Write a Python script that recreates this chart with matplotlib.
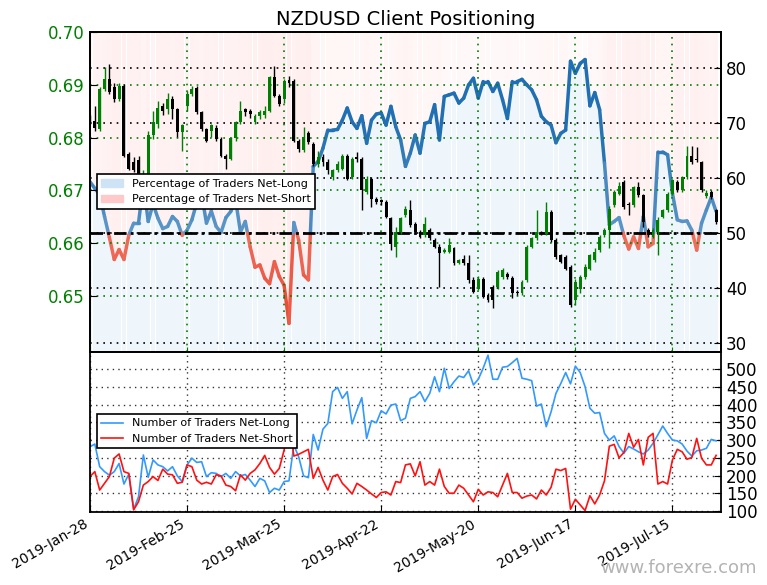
import numpy as np
import matplotlib
matplotlib.use('Agg')
import matplotlib.pyplot as plt
from matplotlib.collections import LineCollection
from matplotlib.patches import Patch
from matplotlib.colors import to_rgb

# tick labels every 20 trading days
tick_labels = ['2019-Jan-28', '2019-Feb-25', '2019-Mar-25', '2019-Apr-22',
               '2019-May-20', '2019-Jun-17', '2019-Jul-15']

# NZDUSD daily candles
opens = [0.6835, 0.6832, 0.6816, 0.6892, 0.6911, 0.6895, 0.6873, 0.6898, 0.6769, 0.6753,
         0.6757, 0.6722, 0.6730, 0.6804, 0.6826, 0.6860, 0.6854, 0.6873, 0.6854, 0.6810,
         0.6860, 0.6882, 0.6894, 0.6848, 0.6816, 0.6813, 0.6819, 0.6797, 0.6766, 0.6760,
         0.6799, 0.6829, 0.6854, 0.6851, 0.6829, 0.6840, 0.6842, 0.6851, 0.6914, 0.6879,
         0.6873, 0.6909, 0.6908, 0.6794, 0.6776, 0.6808, 0.6788, 0.6750, 0.6763, 0.6753,
         0.6725, 0.6738, 0.6741, 0.6766, 0.6725, 0.6763, 0.6760, 0.6697, 0.6722, 0.6684,
         0.6681, 0.6678, 0.6647, 0.6593, 0.6621, 0.6653, 0.6662, 0.6637, 0.6621, 0.6615,
         0.6625, 0.6606, 0.6593, 0.6584, 0.6584, 0.6590, 0.6562, 0.6571, 0.6562, 0.6530,
         0.6514, 0.6533, 0.6502, 0.6518, 0.6518, 0.6536, 0.6542, 0.6535, 0.6508, 0.6505,
         0.6530, 0.6593, 0.6609, 0.6621, 0.6618, 0.6659, 0.6606, 0.6577, 0.6574, 0.6555,
         0.6492, 0.6514, 0.6536, 0.6552, 0.6568, 0.6587, 0.6615, 0.6625, 0.6672, 0.6694,
         0.6716, 0.6675, 0.6672, 0.6706, 0.6691, 0.6625, 0.6612, 0.6621, 0.6650, 0.6662,
         0.6694, 0.6716, 0.6700, 0.6725, 0.6766, 0.6760, 0.6753, 0.6690, 0.6697, 0.6662]
highs = [0.6842, 0.6860, 0.6895, 0.6933, 0.6939, 0.6904, 0.6904, 0.6901, 0.6772, 0.6763,
         0.6766, 0.6738, 0.6813, 0.6851, 0.6870, 0.6866, 0.6885, 0.6879, 0.6857, 0.6826,
         0.6889, 0.6898, 0.6898, 0.6851, 0.6819, 0.6826, 0.6823, 0.6801, 0.6769, 0.6801,
         0.6832, 0.6870, 0.6857, 0.6855, 0.6845, 0.6852, 0.6860, 0.6917, 0.6935, 0.6882,
         0.6911, 0.6917, 0.6911, 0.6797, 0.6820, 0.6813, 0.6791, 0.6775, 0.6769, 0.6760,
         0.6741, 0.6756, 0.6769, 0.6769, 0.6764, 0.6772, 0.6763, 0.6728, 0.6725, 0.6688,
         0.6684, 0.6681, 0.6650, 0.6631, 0.6650, 0.6670, 0.6681, 0.6640, 0.6625, 0.6650,
         0.6628, 0.6609, 0.6599, 0.6590, 0.6609, 0.6593, 0.6571, 0.6577, 0.6577, 0.6536,
         0.6538, 0.6536, 0.6505, 0.6521, 0.6549, 0.6554, 0.6545, 0.6538, 0.6511, 0.6530,
         0.6596, 0.6612, 0.6662, 0.6624, 0.6678, 0.6662, 0.6609, 0.6580, 0.6577, 0.6558,
         0.6533, 0.6540, 0.6560, 0.6580, 0.6590, 0.6615, 0.6628, 0.6670, 0.6700, 0.6716,
         0.6719, 0.6678, 0.6709, 0.6716, 0.6694, 0.6628, 0.6628, 0.6650, 0.6665, 0.6697,
         0.6722, 0.6719, 0.6728, 0.6785, 0.6785, 0.6782, 0.6756, 0.6700, 0.6701, 0.6665]
lows = [0.6826, 0.6813, 0.6813, 0.6889, 0.6882, 0.6867, 0.6870, 0.6763, 0.6738, 0.6735,
        0.6725, 0.6712, 0.6725, 0.6798, 0.6819, 0.6842, 0.6845, 0.6835, 0.6801, 0.6775,
        0.6851, 0.6879, 0.6845, 0.6813, 0.6791, 0.6801, 0.6794, 0.6763, 0.6741, 0.6757,
        0.6794, 0.6826, 0.6840, 0.6838, 0.6826, 0.6836, 0.6838, 0.6848, 0.6876, 0.6860,
        0.6866, 0.6895, 0.6791, 0.6772, 0.6772, 0.6788, 0.6747, 0.6745, 0.6747, 0.6732,
        0.6720, 0.6734, 0.6738, 0.6719, 0.6722, 0.6753, 0.6662, 0.6693, 0.6669, 0.6675,
        0.6672, 0.6647, 0.6587, 0.6574, 0.6618, 0.6650, 0.6631, 0.6618, 0.6609, 0.6612,
        0.6606, 0.6590, 0.6518, 0.6581, 0.6581, 0.6558, 0.6560, 0.6558, 0.6524, 0.6505,
        0.6511, 0.6496, 0.6488, 0.6477, 0.6514, 0.6533, 0.6533, 0.6496, 0.6502, 0.6502,
        0.6527, 0.6590, 0.6606, 0.6615, 0.6615, 0.6603, 0.6571, 0.6562, 0.6549, 0.6480,
        0.6483, 0.6505, 0.6533, 0.6549, 0.6565, 0.6584, 0.6612, 0.6590, 0.6669, 0.6691,
        0.6665, 0.6653, 0.6669, 0.6687, 0.6631, 0.6612, 0.6609, 0.6577, 0.6647, 0.6659,
        0.6691, 0.6697, 0.6697, 0.6722, 0.6750, 0.6753, 0.6697, 0.6685, 0.6684, 0.6637]
closes = [0.6829, 0.6819, 0.6892, 0.6911, 0.6886, 0.6873, 0.6898, 0.6766, 0.6741, 0.6738,
          0.6731, 0.6730, 0.6804, 0.6829, 0.6857, 0.6851, 0.6873, 0.6854, 0.6810, 0.6823,
          0.6882, 0.6892, 0.6848, 0.6816, 0.6794, 0.6823, 0.6797, 0.6766, 0.6760, 0.6799,
          0.6829, 0.6851, 0.6848, 0.6845, 0.6840, 0.6848, 0.6851, 0.6914, 0.6879, 0.6864,
          0.6908, 0.6903, 0.6794, 0.6779, 0.6801, 0.6791, 0.6750, 0.6763, 0.6753, 0.6738,
          0.6738, 0.6750, 0.6766, 0.6722, 0.6760, 0.6760, 0.6700, 0.6722, 0.6684, 0.6678,
          0.6678, 0.6650, 0.6599, 0.6621, 0.6647, 0.6665, 0.6634, 0.6621, 0.6612, 0.6637,
          0.6609, 0.6593, 0.6581, 0.6587, 0.6596, 0.6562, 0.6568, 0.6562, 0.6530, 0.6508,
          0.6533, 0.6499, 0.6492, 0.6492, 0.6546, 0.6550, 0.6536, 0.6505, 0.6505, 0.6527,
          0.6593, 0.6609, 0.6621, 0.6618, 0.6659, 0.6606, 0.6574, 0.6565, 0.6552, 0.6483,
          0.6527, 0.6536, 0.6555, 0.6577, 0.6584, 0.6612, 0.6625, 0.6665, 0.6697, 0.6709,
          0.6669, 0.6672, 0.6706, 0.6691, 0.6640, 0.6615, 0.6625, 0.6644, 0.6662, 0.6694,
          0.6719, 0.6700, 0.6725, 0.6766, 0.6753, 0.6757, 0.6700, 0.6695, 0.6687, 0.6640]

# percentage of traders net-long
pct_long = [59.3, 58.1, 57.0, 53.0, 49.2, 45.2, 47.0, 45.2, 49.6, 51.8,
            51.8, 59.0, 52.1, 55.3, 52.7, 50.8, 51.2, 53.0, 52.1, 49.6,
            50.5, 52.4, 55.5, 57.0, 51.8, 54.0, 51.2, 50.1, 52.8, 53.9,
            56.0, 50.2, 52.1, 47.5, 43.8, 44.2, 41.8, 40.8, 44.8, 42.1,
            40.5, 33.6, 51.9, 48.7, 42.4, 41.5, 62.1, 63.0, 65.4, 68.7,
            68.7, 68.8, 70.5, 72.7, 70.2, 69.0, 71.3, 66.3, 70.5, 71.6,
            71.8, 69.6, 73.0, 69.3, 66.9, 62.1, 64.5, 67.8, 64.5, 69.9,
            70.2, 73.3, 66.9, 74.8, 75.1, 75.4, 73.6, 74.5, 76.9, 78.1,
            74.5, 77.5, 77.5, 75.7, 77.2, 74.2, 70.8, 77.5, 77.5, 77.9,
            76.9, 76.0, 74.2, 71.2, 70.2, 69.6, 66.4, 68.1, 68.7, 81.2,
            79.0, 80.8, 81.5, 73.1, 75.5, 72.4, 62.7, 51.5, 52.1, 52.8,
            49.5, 47.1, 49.3, 47.2, 53.0, 47.5, 48.1, 64.7, 64.7, 64.2,
            57.2, 52.4, 52.1, 52.2, 50.5, 46.9, 51.8, 54.2, 56.5, 53.9]

# number of traders
n_long = [281, 289, 225, 211, 201, 211, 234, 176, 204, 105,
          140, 258, 195, 244, 230, 225, 213, 225, 199, 183,
          230, 249, 237, 239, 197, 208, 206, 197, 206, 192,
          211, 199, 203, 187, 169, 192, 185, 152, 164, 159,
          183, 185, 286, 253, 199, 194, 316, 272, 331, 347,
          437, 449, 418, 437, 346, 385, 420, 305, 355, 349,
          383, 374, 399, 402, 355, 362, 418, 423, 437, 409,
          432, 479, 437, 503, 446, 465, 481, 477, 496, 456,
          472, 503, 540, 472, 472, 506, 508, 519, 531, 475,
          472, 468, 396, 402, 338, 380, 432, 460, 491, 459,
          509, 491, 451, 390, 376, 378, 319, 300, 312, 282,
          263, 282, 275, 267, 261, 272, 291, 315, 340, 319,
          300, 298, 289, 269, 255, 270, 272, 277, 302, 298]
n_short = [197, 211, 159, 178, 197, 249, 261, 211, 206, 103,
           126, 173, 183, 197, 186, 218, 204, 202, 178, 181,
           230, 225, 187, 176, 181, 176, 202, 199, 173, 169,
           157, 202, 187, 206, 216, 234, 257, 223, 204, 220,
           272, 365, 255, 260, 267, 274, 192, 223, 187, 159,
           197, 203, 178, 164, 148, 178, 169, 159, 148, 138,
           152, 154, 145, 183, 180, 230, 233, 199, 239, 173,
           183, 173, 218, 169, 150, 150, 173, 164, 145, 126,
           161, 145, 154, 152, 140, 173, 206, 152, 152, 136,
           142, 145, 134, 159, 145, 167, 218, 214, 220, 105,
           133, 117, 101, 143, 120, 145, 185, 283, 288, 250,
           265, 319, 280, 302, 230, 308, 319, 176, 183, 176,
           244, 274, 267, 246, 251, 305, 249, 230, 230, 257]

n = len(closes)
x = np.arange(n)
o, h, l, c = map(np.array, (opens, highs, lows, closes))
pct = np.array(pct_long)

pct_lo, pct_hi = 28.4, 86.5
dots = (0, (1, 3))


def mix(col, a):
    # blend a colour with white instead of using alpha, so joints don't darken
    r = np.array(to_rgb(col))
    return tuple(1 - a * (1 - r))


fig = plt.figure(figsize=(7.67, 5.85), dpi=100)
ax_price = fig.add_axes([0.1173, 0.3983, 0.8227, 0.5470])
ax_pct = ax_price.twinx()
ax_cnt = fig.add_axes([0.1173, 0.1248, 0.8227, 0.2735], sharex=ax_price)
ax_price.set_zorder(ax_pct.get_zorder() + 1)
ax_price.patch.set_visible(False)

# sentiment background strips
blue_fill = (184 / 255, 216 / 255, 240 / 255, 0.22)
red_fill = [(1, 0.5, 0.5, 0.22 * (100 - p) / 100) for p in pct]
ax_pct.bar(x, pct - pct_lo, bottom=pct_lo, width=0.94, color=blue_fill, lw=0)
ax_pct.bar(x, pct_hi - pct, bottom=pct, width=0.94, color=red_fill, lw=0)

# percentage line, blue above 50 and red below
segs, cols = [], []
for i in range(n - 1):
    p0, p1 = pct[i], pct[i + 1]
    pts = [(i, p0)]
    if (p0 - 50) * (p1 - 50) < 0:
        pts.append((i + (50 - p0) / (p1 - p0), 50))
    pts.append((i + 1, p1))
    for a, b in zip(pts[:-1], pts[1:]):
        mid = (a[1] + b[1]) / 2
        s = 0.72 + 0.28 * min(1, abs(mid - 50) / 20)
        segs.append([a, b])
        cols.append(mix('#1f6fb2', s) if mid >= 50 else mix('#e83a22', s))
ax_pct.add_collection(LineCollection(segs, colors=cols, linewidths=2.5,
                                     capstyle='round', joinstyle='round', zorder=3))
ax_pct.axhline(50, color='black', lw=2, dashes=(4.5, 1.5, 1, 1.5), zorder=4)

ax_pct.set_ylim(pct_lo, pct_hi)
ax_pct.set_yticks([30, 40, 50, 60, 70, 80])
ax_pct.yaxis.grid(True, color='black', ls=dots, lw=1.2)
ax_pct.tick_params(axis='y', labelsize=12, direction='in', length=5)

# candles
up = c >= o
cc = np.where(up, 'green', 'black')
ax_price.vlines(x, l, h, colors=cc, lw=1, zorder=3)
body = np.maximum(np.abs(c - o), 0.00012)
ax_price.bar(x, body, bottom=np.minimum(o, c), width=0.6, color=cc, lw=0, zorder=3)

ax_price.set_ylim(0.6394, 0.70)
ax_price.set_yticks([0.65, 0.66, 0.67, 0.68, 0.69, 0.70])
ax_price.set_yticklabels(['0.65', '0.66', '0.67', '0.68', '0.69', '0.70'])
ax_price.grid(True, color='green', ls=dots, lw=1.2)
ax_price.tick_params(axis='y', labelsize=12, labelcolor='green', direction='in', length=5)
ax_price.tick_params(axis='x', labelbottom=False, direction='in', color='green')
ax_price.set_title('NZDUSD Client Positioning', fontsize=14, pad=5)

leg = ax_price.legend(handles=[Patch(facecolor='#cfe3f6', edgecolor='#cfe3f6', label='Percentage of Traders Net-Long'),
                               Patch(facecolor='#ffc9c9', edgecolor='#ffc9c9', label='Percentage of Traders Net-Short')],
                      loc='upper left', bbox_to_anchor=(0.0105, 0.555), borderaxespad=0,
                      fontsize=8, fancybox=False, framealpha=1, edgecolor='black')
leg.get_frame().set_linewidth(1.2)
leg.set_zorder(10)

# trader counts
ax_cnt.plot(x, n_long, color='#3399ff', lw=1.2, label='Number of Traders Net-Long')
ax_cnt.plot(x, n_short, color='#ff1111', lw=1.2, label='Number of Traders Net-Short')
ax_cnt.set_ylim(97, 549)
ax_cnt.set_yticks(np.arange(100, 501, 50))
ax_cnt.yaxis.tick_right()
ax_cnt.tick_params(axis='y', labelsize=12, direction='in', length=5)
ax_cnt.grid(True, color='black', ls=dots, lw=1.0, alpha=0.8)
ax_cnt.set_xlim(0, 130)
ax_cnt.set_xticks(np.arange(0, n, 20))
ax_cnt.set_xticklabels(tick_labels, rotation=30, ha='right', fontsize=10)
ax_cnt.tick_params(axis='x', direction='in', length=5)
leg2 = ax_cnt.legend(loc='upper left', bbox_to_anchor=(0.0105, 0.6125), borderaxespad=0,
                     fontsize=8, fancybox=False, framealpha=1, edgecolor='black')
leg2.get_frame().set_linewidth(1.2)

for ax in (ax_price, ax_pct, ax_cnt):
    for sp in ax.spines.values():
        sp.set_linewidth(1.3)

fig.text(0.987, 0.014, 'www.forexre.com', ha='right', va='bottom', fontsize=13, color='#b3b3b3')

fig.savefig('out.png', dpi=100)
